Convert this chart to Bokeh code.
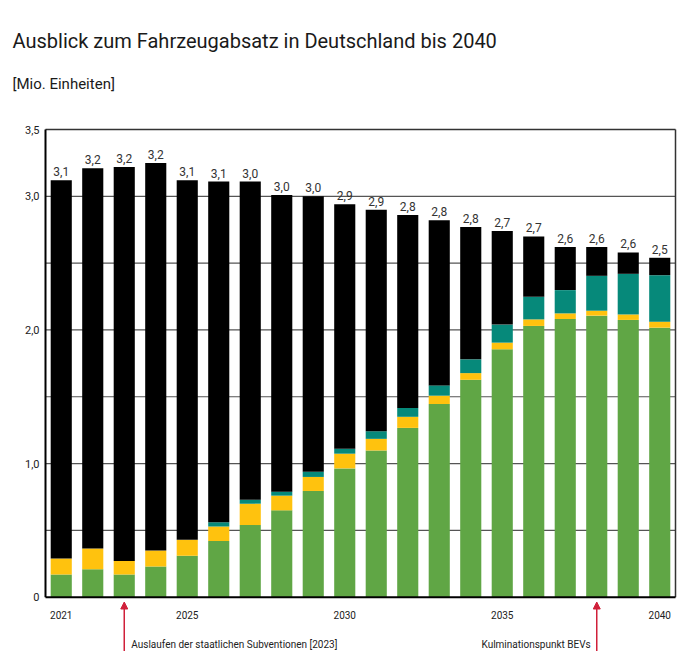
from bokeh.plotting import figure
from bokeh.models import ColumnDataSource, Range1d, Arrow, NormalHead
from bokeh.core.properties import value
from bokeh.embed import file_html
from bokeh.resources import INLINE

# ---------------- data ----------------
years = list(range(2021, 2041))
bev = [0.17, 0.21, 0.17, 0.23, 0.31, 0.42, 0.54, 0.65, 0.795, 0.964,
       1.098, 1.267, 1.446, 1.627, 1.855, 2.03, 2.082, 2.107, 2.075, 2.017]
phev = [0.12, 0.155, 0.10, 0.12, 0.12, 0.11, 0.16, 0.11, 0.105, 0.11,
        0.087, 0.083, 0.062, 0.05, 0.05, 0.049, 0.042, 0.037, 0.041, 0.045]
other = [0.0, 0.0, 0.0, 0.0, 0.0, 0.03, 0.03, 0.03, 0.039, 0.037,
         0.057, 0.066, 0.077, 0.103, 0.135, 0.169, 0.174, 0.261, 0.304, 0.348]
ice = [2.83, 2.845, 2.95, 2.90, 2.69, 2.55, 2.38, 2.22, 2.061, 1.83,
       1.658, 1.444, 1.235, 0.99, 0.70, 0.452, 0.322, 0.215, 0.16, 0.13]
total_labels = ["3,1", "3,2", "3,2", "3,2", "3,1", "3,1", "3,0", "3,0", "3,0", "2,9",
                "2,9", "2,8", "2,8", "2,8", "2,7", "2,7", "2,6", "2,6", "2,6", "2,5"]
y_ticks = [0, 1, 2, 3, 3.5]
y_tick_labels = ["0", "1,0", "2,0", "3,0", "3,5"]
x_ticks = [2021, 2025, 2030, 2035, 2040]
x_tick_labels = ["2021", "2025", "2030", "2035", "2040"]
grid_ticks = [0.5, 1.0, 1.5, 2.0, 2.5, 3.0]
ann_years = [2023, 2038]
ann_texts = ["Auslaufen der staatlichen Subventionen [2023]", "Kulminationspunkt BEVs"]
title_text = "Ausblick zum Fahrzeugabsatz in Deutschland bis 2040"
subtitle_text = "[Mio. Einheiten]"

totals = [a + b + c + d for a, b, c, d in zip(bev, phev, other, ice)]

# ---------------- layout constants ----------------
W, H = 681, 651
FL, FR, FT, FB = 45, 675, 129, 596.7          # plot-area edges (pixels)
X0, X1, Y0, Y1 = 2020.5, 2040.5, 0.0, 3.5       # plot-area data limits
kx = (FR - FL) / (X1 - X0)
ky = (FB - FT) / (Y1 - Y0)
def fy(py):  # pixel row -> data y
    return (FB - py) / ky
def fx(px):  # pixel col -> data x
    return X0 + (px - FL) / kx

FONT = "Roboto"
GREEN = "#60a645"
YELLOW = "#ffc20e"
TEAL = "#06897a"
BLACK = "#000000"
RED = "#d0203a"

source = ColumnDataSource(dict(year=years, bev=bev, phev=phev, other=other, ice=ice,
                               total=[t + 4 / ky for t in totals], label=total_labels))

p = figure(width=W, height=H, output_backend="svg", toolbar_location=None,
           x_range=Range1d(fx(0), fx(W)), y_range=Range1d(fy(H), fy(0)),
           x_axis_type=None, y_axis_type=None, min_border=0)
p.grid.visible = False
p.outline_line_color = None
p.background_fill_color = "white"
p.border_fill_color = "white"

# grid lines
p.segment(x0=[X0] * len(grid_ticks), x1=[X1] * len(grid_ticks), y0=grid_ticks,
          y1=grid_ticks, line_color="#555555", line_width=1.2)

# bars
p.vbar_stack(["bev", "phev", "other", "ice"], x="year", width=0.67,
             color=[GREEN, YELLOW, TEAL, BLACK], line_color=None, source=source)

# frame: top / right outline, left / bottom axis lines
p.segment(x0=[X0, X1], x1=[X1, X1], y0=[Y1, Y0], y1=[Y1, Y1],
          line_color="#333333", line_width=1.5)
p.segment(x0=[X0, X0], x1=[X1, X0], y0=[Y0, Y0], y1=[Y0, Y1],
          line_color="black", line_width=2)

# tick labels
p.text(x=[X0] * len(y_ticks), y=y_ticks, text=y_tick_labels, x_offset=-6,
       text_align="right", text_baseline="middle", text_font=value(FONT),
       text_font_size="11px", text_color="#222222")
p.text(x=x_ticks, y=[fy(614.5)] * len(x_ticks), text=x_tick_labels,
       text_align="center", text_baseline="middle", text_font=value(FONT),
       text_font_size="10px", text_color="#222222")

# value labels
p.text(x="year", y="total", text="label", source=source, text_align="center",
       text_baseline="bottom", text_font=value(FONT), text_font_size="12px",
       text_color="#333333")

# title / subtitle
p.text(x=[fx(12)], y=[fy(40)], text=[title_text], text_font=value(FONT),
       text_font_size="20px", text_color="#1a1a1a", text_baseline="alphabetic",
       text_align="left")
p.text(x=[fx(12)], y=[fy(83)], text=[subtitle_text], text_font=value(FONT),
       text_font_size="15px", text_color="#1a1a1a", text_baseline="alphabetic",
       text_align="left")

# annotations
for i, (yr, txt) in enumerate(zip(ann_years, ann_texts)):
    p.add_layout(Arrow(end=NormalHead(size=7, fill_color=RED, line_color=RED),
                       x_start=yr, y_start=fy(651), x_end=yr, y_end=fy(601.5),
                       line_color=RED, line_width=1.5))
    p.text(x=[yr], y=[fy(644)], text=[txt], x_offset=7 if i == 0 else -6,
           text_align="left" if i == 0 else "right", text_baseline="middle",
           text_font=value(FONT), text_font_size="10px", text_color="#222222")

open("out.html", "w").write(file_html(p, INLINE))
